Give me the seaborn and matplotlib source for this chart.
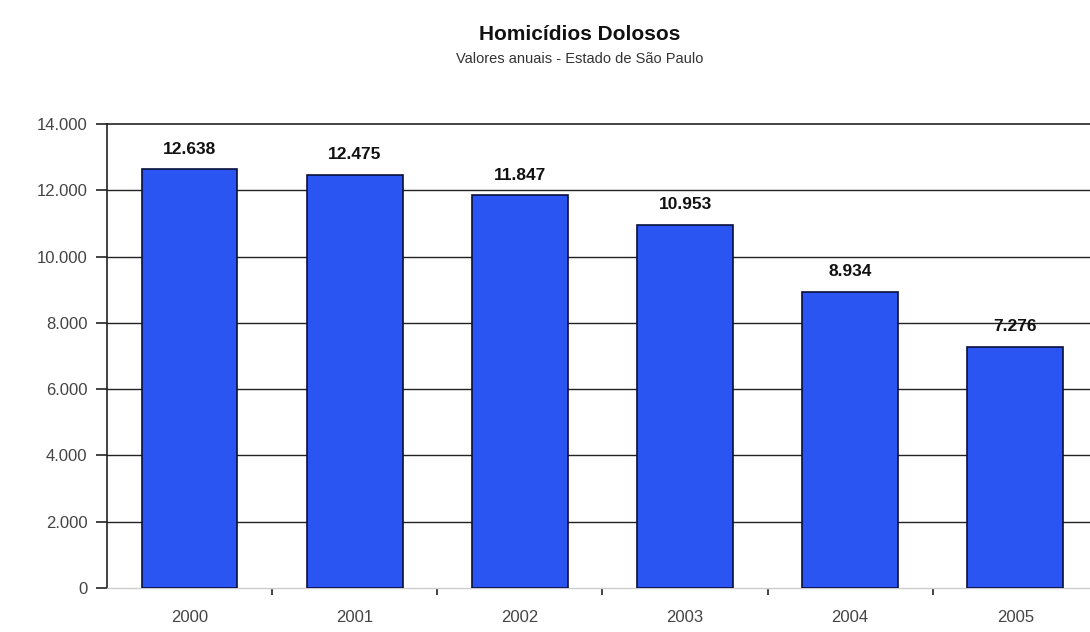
import matplotlib
matplotlib.use("Agg")
import matplotlib.pyplot as plt
import matplotlib.ticker as mticker
import seaborn as sns
import pandas as pd

years = ["2000", "2001", "2002", "2003", "2004", "2005"]
homicidios = [12638, 12475, 11847, 10953, 8934, 7276]
yticks = [0, 2000, 4000, 6000, 8000, 10000, 12000, 14000]

sns.set_theme(style="white")
plt.rcParams["font.family"] = ["Liberation Sans", "DejaVu Sans"]

def milhar(v, pos=None):
    return f"{v:,.0f}".replace(",", ".")

df = pd.DataFrame({"ano": years, "valor": homicidios})

fig = plt.figure(figsize=(10.9, 6.32), dpi=100)
ax = fig.add_axes([0.0982, 0.0696, 0.909, 0.7342])

sns.barplot(data=df, x="ano", y="valor", color="#2B55F2", saturation=1,
            width=0.58, edgecolor="#0a0f3a", linewidth=1.2, ax=ax, zorder=3)

ax.set_ylim(0, 14000)
ax.set_xlim(-0.5, len(years) - 0.5)
ax.set_yticks(yticks)
ax.yaxis.set_major_formatter(mticker.FuncFormatter(milhar))
ax.set_xlabel("")
ax.set_ylabel("")

# horizontal gridlines
for v in yticks[1:-1]:
    ax.axhline(v, color="#222222", lw=1.0, zorder=1)

for s in ["top", "left"]:
    ax.spines[s].set_color("#222222")
    ax.spines[s].set_linewidth(1.2)
ax.spines["right"].set_visible(False)
ax.spines["bottom"].set_color("#cccccc")
ax.spines["bottom"].set_linewidth(1.0)

ax.tick_params(axis="y", which="major", direction="out", length=8, width=1.2,
               color="#222222", left=True, labelsize=12, labelcolor="#444444", pad=6)
ax.tick_params(axis="x", which="major", length=0, labelsize=12,
               labelcolor="#444444", pad=16)
ax.set_xticks([i + 0.5 for i in range(len(years) - 1)], minor=True)
ax.tick_params(axis="x", which="minor", direction="out", length=5, width=1.2,
               color="#222222", bottom=True)

labels = [milhar(v) for v in homicidios]
ax.bar_label(ax.containers[0], labels=labels, padding=9, fontsize=12.5,
             fontweight="bold", color="#111111", zorder=4)

fig.text(0.532, 0.945, "Homicídios Dolosos", ha="center", va="center",
         fontsize=15, fontweight="bold", color="#111111")
fig.text(0.532, 0.907, "Valores anuais - Estado de São Paulo", ha="center",
         va="center", fontsize=10.5, color="#333333")

fig.savefig("out.png", dpi=100, facecolor="white")
